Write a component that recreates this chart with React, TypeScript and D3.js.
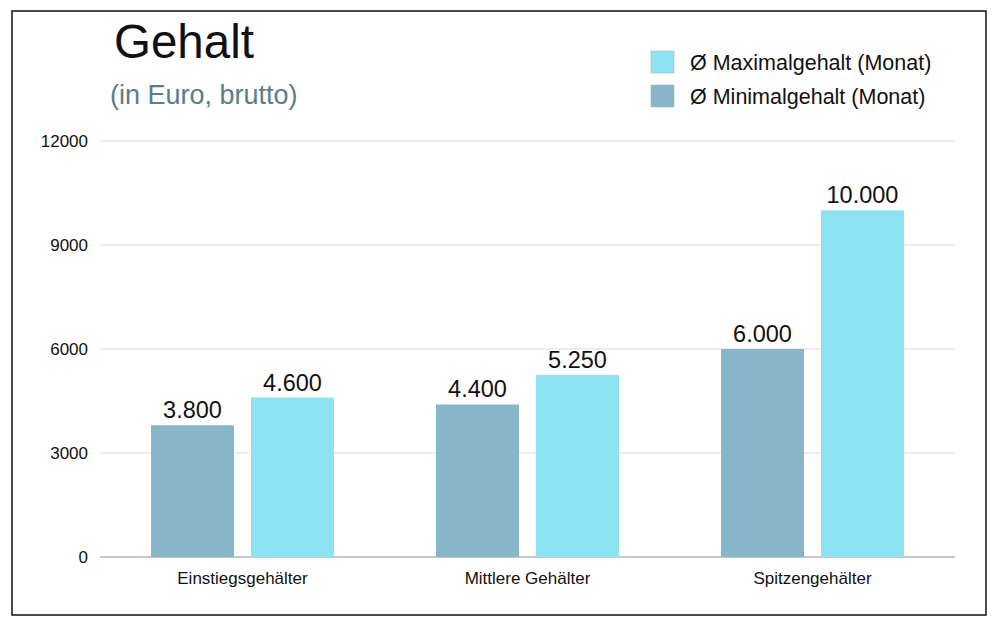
import React from "react";
import * as d3 from "d3";

const categories = ["Einstiegsgehälter", "Mittlere Gehälter", "Spitzengehälter"];
const seriesNames = ["Ø Minimalgehalt (Monat)", "Ø Maximalgehalt (Monat)"];
const minValues = [3800, 4400, 6000];
const maxValues = [4600, 5250, 10000];
const yTicks = [0, 3000, 6000, 9000, 12000];
const colors = ["#88b6c9", "#8de3f2"];

const W = 1000;
const H = 633;
const left = 100;
const right = 955;
const top = 141;
const bottom = 557;

export default function App() {
  const x0 = d3.scaleBand<string>().domain(categories).range([left, right]).paddingInner(0.358).paddingOuter(0.179);
  const x1 = d3.scaleBand<string>().domain(seriesNames).range([0, x0.bandwidth()]).paddingInner(0.17).paddingOuter(0);
  const y = d3.scaleLinear().domain([0, 12000]).range([bottom, top]);
  const fmt = (v: number) => d3.format(",")(v).replace(/,/g, ".");
  const series = [minValues, maxValues];
  const font = "'Liberation Sans', Arial, Helvetica, sans-serif";

  return (
    <svg width={W} height={H} style={{ position: "absolute", left: 0, top: 0, background: "#fff" }} fontFamily={font}>
      <rect x={12} y={11} width={974} height={604} fill="#fff" stroke="#111" strokeWidth={1.5} />
      <text x={114} y={58} fontSize={47.5} fill="#111">Gehalt</text>
      <text x={110} y={104} fontSize={27} fill="#587d8b">(in Euro, brutto)</text>

      {[1, 0].map((si, i) => (
        <g key={si}>
          <rect x={651} y={51 + i * 34} width={23} height={22} fill={colors[si]} stroke="#9ab" strokeWidth={0.5} />
          <text x={690} y={69.5 + i * 34} fontSize={21.5} fill="#111">{seriesNames[si]}</text>
        </g>
      ))}

      {yTicks.map((t) => (
        <g key={t}>
          <line x1={left} x2={right} y1={y(t)} y2={y(t)} stroke={t === 0 ? "#b5b5b5" : "#dcdcdc"} strokeWidth={t === 0 ? 1.5 : 1} />
          <text x={88} y={y(t)} dy="0.35em" textAnchor="end" fontSize={17} fill="#111">{t}</text>
        </g>
      ))}

      {categories.map((c, ci) => (
        <g key={c} transform={`translate(${x0(c)},0)`}>
          {seriesNames.map((s, si) => {
            const v = series[si][ci];
            const bx = x1(s)!;
            return (
              <g key={s}>
                <rect x={bx} y={y(v)} width={x1.bandwidth()} height={bottom - y(v)} fill={colors[si]} />
                <text x={bx + x1.bandwidth() / 2} y={y(v) - 7} textAnchor="middle" fontSize={23.5} fill="#111">{fmt(v)}</text>
              </g>
            );
          })}
          <text x={x0.bandwidth() / 2} y={584} textAnchor="middle" fontSize={17} fill="#111">{c}</text>
        </g>
      ))}
    </svg>
  );
}
